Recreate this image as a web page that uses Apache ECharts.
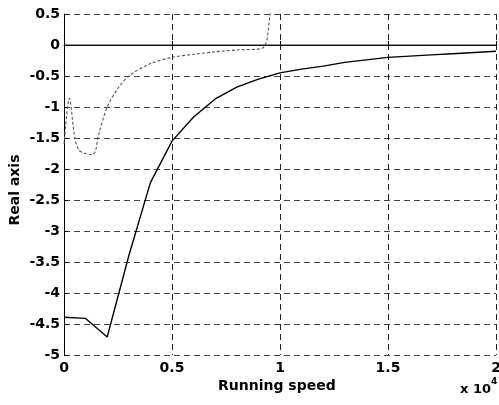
<!DOCTYPE html>
<html>
<head>
<meta charset="utf-8">
<script src="https://cdn.jsdelivr.net/npm/echarts@6/dist/echarts.min.js"></script>
<style>html,body{margin:0;padding:0;background:#fff;}#c{width:499px;height:405px;}</style>
</head>
<body>
<div id="c"></div>
<script>
var solidX = [0, 0.1, 0.2, 0.3, 0.4, 0.5, 0.6, 0.7, 0.8, 0.9, 1.0, 1.1, 1.2, 1.3, 1.4, 1.5, 1.6, 1.7, 1.8, 1.9, 2.0];
var solidY = [-4.39, -4.41, -4.71, -3.40, -2.22, -1.55, -1.16, -0.87, -0.68, -0.55, -0.45, -0.39, -0.34, -0.28, -0.24, -0.20, -0.18, -0.16, -0.14, -0.12, -0.10];
var dashedX = [0, 0.025, 0.05, 0.07, 0.1, 0.13, 0.145, 0.16, 0.2, 0.25, 0.3, 0.4, 0.5, 0.6, 0.7, 0.8, 0.92, 0.955, 0.97];
var dashedY = [-1.6, -0.86, -1.5, -1.7, -1.75, -1.77, -1.72, -1.45, -1.0, -0.7, -0.5, -0.3, -0.2, -0.15, -0.11, -0.08, -0.05, 0.5, 0.75];
var zeroX = [0, 2];
var zeroY = [0, 0];
var xTicks = ['0', '0.5', '1', '1.5', '2'];
var yTicks = ['0.5', '0', '-0.5', '-1', '-1.5', '-2', '-2.5', '-3', '-3.5', '-4', '-4.5', '-5'];

function pairs(xs, ys) { return xs.map(function (x, i) { return [x, ys[i]]; }); }

var font = 'DejaVu Sans';
var chart = echarts.init(document.getElementById('c'), null, {renderer: 'canvas'});
chart.setOption({
  animation: false,
  backgroundColor: '#fff',
  grid: {left: 64, right: 3, top: 14, bottom: 50, containLabel: false, outerBoundsMode: 'none'},
  xAxis: {
    type: 'value', min: 0, max: 2, interval: 0.5,
    axisLine: {show: true, lineStyle: {color: '#000', width: 1}},
    axisTick: {show: true, inside: true, length: 4, lineStyle: {color: '#000'}},
    axisLabel: {
      color: '#000', fontFamily: font, fontWeight: 'bold', fontSize: 14, margin: 6,
      formatter: function (v) { var i = Math.round(v / 0.5); return xTicks[i] !== undefined ? xTicks[i] : ''; }
    },
    splitLine: {show: true, lineStyle: {color: '#222', type: [6, 4], width: 1}}
  },
  yAxis: {
    type: 'value', min: -5, max: 0.5, interval: 0.5,
    axisLine: {show: true, lineStyle: {color: '#000', width: 1}},
    axisTick: {show: true, inside: true, length: 4, lineStyle: {color: '#000'}},
    axisLabel: {
      color: '#000', fontFamily: font, fontWeight: 'bold', fontSize: 14, margin: 4,
      formatter: function (v) { var i = Math.round((0.5 - v) / 0.5); return yTicks[i] !== undefined ? yTicks[i] : ''; }
    },
    splitLine: {show: true, lineStyle: {color: '#444', type: [6, 4], width: 1}}
  },
  series: [
    {type: 'line', data: pairs(zeroX, zeroY), symbol: 'none', lineStyle: {color: '#222', width: 1}, clip: true, silent: true},
    {type: 'line', data: pairs(solidX, solidY), symbol: 'none', lineStyle: {color: '#000', width: 1.4}, clip: true},
    {type: 'line', data: pairs(dashedX, dashedY), symbol: 'none', smooth: 0.3, lineStyle: {color: '#555', width: 1.1, type: [3, 2]}, clip: true}
  ],
  graphic: [
    {type: 'text', left: 218, top: 379, style: {text: 'Running speed', font: 'bold 14px "DejaVu Sans"', fill: '#000'}},
    {type: 'text', x: 15, y: 190, rotation: Math.PI / 2, style: {text: 'Real axis', font: 'bold 14px "DejaVu Sans"', fill: '#000', align: 'center', verticalAlign: 'middle'}},
    {type: 'text', left: 460, top: 383, style: {text: 'x 10', font: 'bold 13px "DejaVu Sans"', fill: '#000'}},
    {type: 'text', left: 491, top: 377, style: {text: '4', font: 'bold 9px "DejaVu Sans"', fill: '#000'}}
  ]
});
</script>
</body>
</html>
